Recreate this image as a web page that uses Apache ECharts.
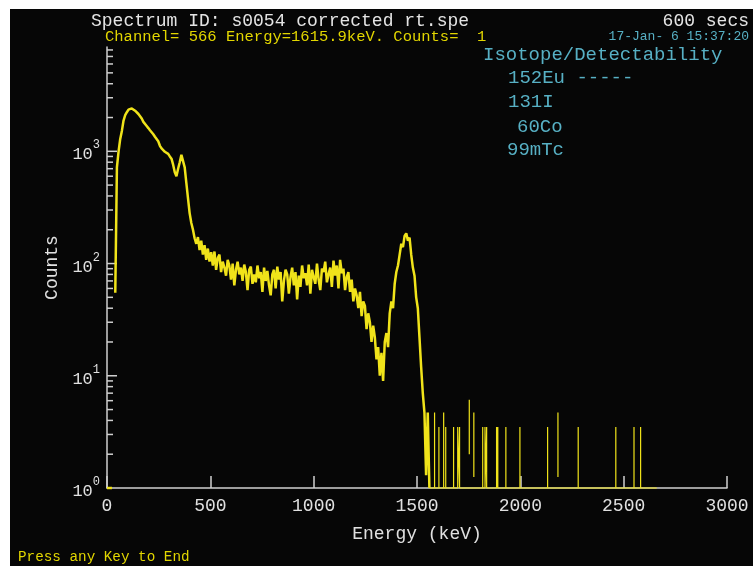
<!DOCTYPE html>
<html>
<head>
<meta charset="utf-8">
<script src="https://cdn.jsdelivr.net/npm/echarts@6/dist/echarts.min.js"></script>
<style>
  html, body { margin: 0; padding: 0; background: #ffffff; }
  #spectrum {
    position: absolute;
    left: 10px;
    top: 9px;
    width: 743px;
    height: 557px;
  }
</style>
</head>
<body>
<div id="spectrum"></div>
<script>
// spectrum rebinned to 8 keV bins, starting at 0 keV (null = gap in the trace)
var binKeV = 8;
var counts = [
  1, 1, 1, 1, null, 55, 720, 1000, 1290, 1520,
  1880, 2100, 2230, 2350, 2440, 2410, 2380, 2300, 2230, 2150,
  2080, 1960, 1830, 1760, 1680, 1610, 1540, 1480, 1420, 1350,
  1300, 1230, 1120, 1060, 1030, 990, 965, 950, 900, 860,
  760, 650, 600, 700, 800, 930, 960, 720, 520, 380,
  280, 230,
  200, 168, 150, 172, 132, 160, 120, 146, 108, 136,
  104, 126, 96, 128, 88, 112, 120, 84, 104, 92,
  78, 108, 96, 72, 100, 64, 88, 104, 80, 92,
  70, 98, 84, 58, 88, 94, 66, 80, 68, 96,
  74, 84, 56, 92, 70, 86, 64, 52, 80, 88,
  60, 94, 72, 84, 46, 70, 88, 80, 54, 76,
  92, 64, 84, 48, 78, 62, 96, 74, 82, 64,
  98, 54, 88, 76, 66, 100, 72, 58, 90, 84,
  104, 68, 80, 92, 62, 106, 78, 96, 60, 108,
  82, 90, 58, 76, 84, 56, 72, 46, 60, 52,
  40, 56, 34, 46, 42, 26, 36, 30, 20, 28,
  22, 14, 18, 10, 16, 9, 20, 24, 18, 36,
  46, 40, 66, 84, 96, 120, 150, 140, 176, 186,
  160, 170, 120, 92, 78, 50, 40, 22, 12, 7,
  4.7, 1.3, 4.7, 1
];

// isolated counts above 1560 keV (spike energy, top, bottom)
var tailEnergy = [1585, 1606, 1629, 1639, 1677, 1697, 1706, 1753, 1775, 1818, 1829, 1837, 1885, 1891, 1930, 1998, 2132, 2182, 2280, 2462, 2550, 2582];
var tailHigh   = [4.7, 3.5, 4.7, 3.5, 3.5, 3.5, 3.5, 6.1, 4.7, 3.5, 3.5, 3.5, 3.5, 3.5, 3.5, 3.5, 3.5, 4.7, 3.5, 3.5, 3.5, 3.5];
var tailLow    = [1, 1, 1, 1, 1, 1, 1, 2, 1.25, 1, 1, 1, 1, 1, 1, 1, 1, 1.25, 1, 1, 1, 1];
var tailEnd = 2660;

var xTicks = [0, 500, 1000, 1500, 2000, 2500, 3000];
var yDecades = [1, 10, 100, 1000];

var FONT = '"Liberation Mono", "DejaVu Sans Mono", monospace';
var axisColor = '#cfcfcf';
var traceColor = '#f0e31a';
var cyan = '#57b0c4';

var mainData = counts.map(function (c, i) { return [i * binKeV, c]; });

var tailData = [[(counts.length - 1) * binKeV, 1]];
tailEnergy.forEach(function (e, i) {
  if (tailLow[i] === 1) {
    tailData.push([e, 1], [e, tailHigh[i]], [e, 1]);
  } else {
    tailData.push([e, 1], [e, null], [e, tailLow[i]], [e, tailHigh[i]], [e, null], [e, 1]);
  }
});
tailData.push([tailEnd, 1]);

// y ticks: long at each decade, short at 2..9
var yTickData = [];
yDecades.forEach(function (d) {
  if (d > 1) yTickData.push([0, d, 10]);
  for (var k = 2; k <= 9; k++) {
    if (d * k <= 8500) yTickData.push([0, d * k, 6]);
  }
});

var myChart = echarts.init(document.getElementById('spectrum'));
var option = {
  backgroundColor: '#060606',
  animation: false,
  grid: { left: 97, right: 26, top: 38, bottom: 78 },
  xAxis: {
    type: 'value',
    min: 0,
    max: 3000,
    interval: 500,
    name: 'Energy (keV)',
    nameLocation: 'middle',
    nameGap: 37,
    nameTextStyle: { color: '#e0e0e0', fontFamily: FONT, fontSize: 18 },
    axisLine: { lineStyle: { color: axisColor, width: 1.5 } },
    axisTick: { inside: true, length: 12, lineStyle: { color: axisColor, width: 1.5 } },
    splitLine: { show: false },
    axisLabel: {
      color: '#e0e0e0', fontFamily: FONT, fontSize: 18, margin: 9,
      formatter: function (v) { return xTicks.indexOf(v) >= 0 ? String(v) : ''; }
    }
  },
  yAxis: {
    type: 'log',
    logBase: 10,
    min: 1,
    max: 8500,
    name: 'Counts',
    nameLocation: 'middle',
    nameGap: 40,
    nameTextStyle: { color: '#e0e0e0', fontFamily: FONT, fontSize: 18 },
    axisLine: { show: true, lineStyle: { color: axisColor, width: 1.5 } },
    axisTick: { show: false },
    splitLine: { show: false },
    axisLabel: {
      showMaxLabel: false,
      margin: 7,
      formatter: function (v) {
        var n = Math.round(Math.log10(v));
        if (Math.abs(v - Math.pow(10, n)) > 1e-6 * v) return '';
        return '{b|10}{e|' + n + '}';
      },
      rich: {
        b: { color: '#e0e0e0', fontFamily: FONT, fontSize: 17, lineHeight: 24, verticalAlign: 'bottom' },
        e: { color: '#e0e0e0', fontFamily: FONT, fontSize: 12, lineHeight: 24, verticalAlign: 'top' }
      }
    }
  },
  graphic: [
    { type: 'text', x: 81, y: 12, style: { text: 'Spectrum ID: s0054 corrected rt.spe', fill: '#e4e4e4', font: '18px ' + FONT, align: 'left', verticalAlign: 'middle' } },
    { type: 'text', x: 739, y: 12, style: { text: '600 secs', fill: '#e4e4e4', font: '18px ' + FONT, align: 'right', verticalAlign: 'middle' } },
    { type: 'text', x: 95, y: 28, style: { text: 'Channel= 566 Energy=1615.9keV. Counts=  1', fill: '#e2d600', font: '15.5px ' + FONT, align: 'left', verticalAlign: 'middle' } },
    { type: 'text', x: 739, y: 28, style: { text: '17-Jan- 6 15:37:20', fill: cyan, font: '13px ' + FONT, align: 'right', verticalAlign: 'middle' } },
    { type: 'text', x: 473, y: 46, style: { text: 'Isotope/Detectability', fill: cyan, font: '19px ' + FONT, align: 'left', verticalAlign: 'middle' } },
    { type: 'text', x: 498, y: 69, style: { text: '152Eu -----', fill: cyan, font: '19px ' + FONT, align: 'left', verticalAlign: 'middle' } },
    { type: 'text', x: 498, y: 93, style: { text: '131I', fill: cyan, font: '19px ' + FONT, align: 'left', verticalAlign: 'middle' } },
    { type: 'text', x: 507, y: 118, style: { text: '60Co', fill: cyan, font: '19px ' + FONT, align: 'left', verticalAlign: 'middle' } },
    { type: 'text', x: 497, y: 141, style: { text: '99mTc', fill: cyan, font: '19px ' + FONT, align: 'left', verticalAlign: 'middle' } },
    { type: 'text', x: 8, y: 548, style: { text: 'Press any Key to End', fill: '#e2d600', font: '14.3px ' + FONT, align: 'left', verticalAlign: 'middle' } }
  ],
  series: [
    {
      name: 'spectrum',
      type: 'line',
      data: mainData,
      showSymbol: false,
      clip: false,
      connectNulls: false,
      lineStyle: { color: traceColor, width: 2.5 },
      z: 3
    },
    {
      name: 'tail',
      type: 'line',
      data: tailData,
      showSymbol: false,
      clip: false,
      connectNulls: false,
      lineStyle: { color: traceColor, width: 1.2 },
      z: 3
    },
    {
      name: 'yticks',
      type: 'custom',
      silent: true,
      clip: false,
      data: yTickData,
      encode: { x: 0, y: 1 },
      renderItem: function (params, api) {
        var p = api.coord([api.value(0), api.value(1)]);
        var len = api.value(2);
        return {
          type: 'line',
          shape: { x1: p[0], y1: p[1], x2: p[0] + len, y2: p[1] },
          style: { stroke: axisColor, lineWidth: 1.5 }
        };
      },
      z: 1
    }
  ]
};
myChart.setOption(option);
</script>
</body>
</html>
